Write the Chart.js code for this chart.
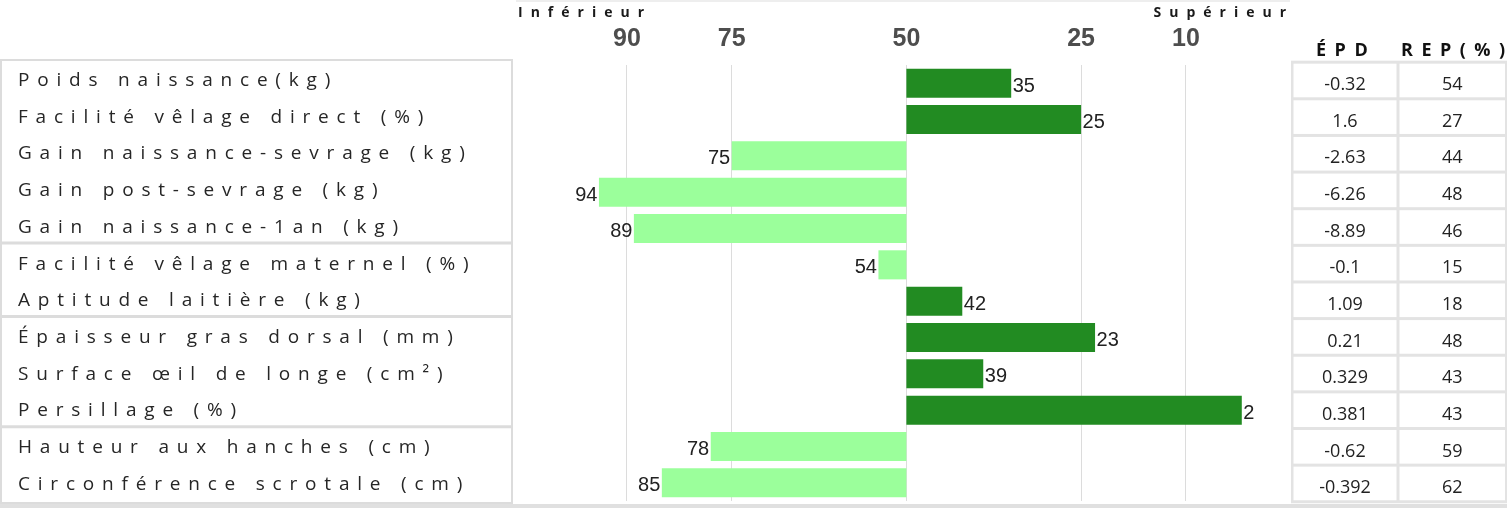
<!DOCTYPE html>
<html><head><meta charset="utf-8">
<script src="https://cdn.jsdelivr.net/npm/chart.js@4"></script>
<style>html,body{margin:0;padding:0;background:#fff;overflow:hidden}canvas{display:block}</style>
</head><body>
<canvas id="c" width="1507" height="508"></canvas>
<script>
// ---- data ----
const categories = ["Poids naissance(kg)", "Facilité vêlage direct (%)", "Gain naissance-sevrage (kg)", "Gain post-sevrage (kg)", "Gain naissance-1an (kg)", "Facilité vêlage maternel (%)", "Aptitude laitière (kg)", "Épaisseur gras dorsal (mm)", "Surface œil de longe (cm²)", "Persillage (%)", "Hauteur aux hanches (cm)", "Circonférence scrotale (cm)"];
const percentiles = [35, 25, 75, 94, 89, 54, 42, 23, 39, 2, 78, 85];
const epdValues = ["-0.32", "1.6", "-2.63", "-6.26", "-8.89", "-0.1", "1.09", "0.21", "0.329", "0.381", "-0.62", "-0.392"];
const repValues = [54, 27, 44, 48, 46, 15, 18, 48, 43, 43, 59, 62];
const tickValues = [90, 75, 50, 25, 10];
const groupBreaks = [5, 7, 10];
const centerValue = 50;
const headerLeft = "Inférieur", headerRight = "Supérieur";
const tableHeaders = ["ÉPD", "REP(%)"];

// ---- styles ----
const DARK = '#228B22', LIGHT = '#9BFF9B';
const LABEL_FONT = '"Open Sans", "DejaVu Sans", sans-serif';

const panels = {
  id: 'panels',
  beforeDraw(chart) {
    const ctx = chart.ctx;
    ctx.save();
    ctx.fillStyle = '#fff';
    ctx.fillRect(0, 0, chart.width, chart.height);
    ctx.restore();
  },
  afterDatasetsDraw(chart) {
    const ctx = chart.ctx;
    const xs = chart.scales.x;
    const meta = chart.getDatasetMeta(0);
    ctx.save();
    ctx.font = '20px "Liberation Sans", Arial, sans-serif';
    ctx.fillStyle = '#222';
    ctx.textBaseline = 'alphabetic';
    meta.data.forEach((bar, i) => {
      const v = percentiles[i];
      const end = xs.getPixelForValue(v);
      if (v < centerValue) { ctx.textAlign = 'left'; ctx.fillText(String(v), end + 1.5, bar.y + 8.5); }
      else { ctx.textAlign = 'right'; ctx.fillText(String(v), end - 1.5, bar.y + 8.5); }
    });
    ctx.restore();
  },
  afterDraw(chart) {
    const ctx = chart.ctx;
    const ys = chart.scales.y;
    const ca = chart.chartArea;
    const yPix = i => ys.getPixelForValue(i);
    ctx.save();

    // top / bottom thin rules
    ctx.fillStyle = '#eeeeee';
    ctx.fillRect(ca.left + 3, 0, ca.right - ca.left - 3, 2);
    ctx.fillStyle = '#e0e0e0';
    ctx.fillRect(0, 504, chart.width, 4);

    // ---- left label panel ----
    const labelBase = i => yPix(i) + 2.7 + i * 0.4;
    ctx.strokeStyle = '#dcdcdc';
    ctx.lineWidth = 2;
    ctx.strokeRect(1, 60, ca.left - 2, 443);
    ctx.lineWidth = 3;
    groupBreaks.forEach(k => {
      const yy = labelBase(k) - 26.5;
      ctx.beginPath(); ctx.moveTo(0, yy); ctx.lineTo(ca.left - 1, yy); ctx.stroke();
    });
    ctx.fillStyle = '#262626';
    ctx.font = '19px ' + LABEL_FONT;
    ctx.letterSpacing = '7.8px';
    ctx.textAlign = 'left';
    ctx.textBaseline = 'alphabetic';
    categories.forEach((c, i) => ctx.fillText(c, 18, labelBase(i)));

    // ---- header words above axis ----
    ctx.font = 'bold 14px ' + LABEL_FONT;
    ctx.letterSpacing = '8px';
    ctx.fillStyle = '#1a1a1a';
    ctx.fillText(headerLeft, ca.left + 5, 17);
    const wR = ctx.measureText(headerRight).width - 8;
    ctx.fillText(headerRight, ca.right - 4 - wR, 17);

    // ---- right table ----
    const rowTop = i => yPix(i) - 21 + i * 0.3;
    const rowH = (yPix(1) - yPix(0)) + 0.3;
    const c1 = [ca.right + 3.5, 1396.5], c2 = [1399.5, chart.width - 2];
    ctx.fillStyle = '#e3e3e3';
    ctx.fillRect(ca.right + 1, rowTop(0) - 1.5, chart.width - ca.right - 1, rowTop(11) + rowH - rowTop(0) + 3);
    ctx.fillStyle = '#fff';
    for (let i = 0; i < categories.length; i++) {
      const t = rowTop(i) + 1.5, h = rowH - 3;
      ctx.fillRect(c1[0], t, c1[1] - c1[0], h);
      ctx.fillRect(c2[0], t, c2[1] - c2[0], h);
    }
    ctx.letterSpacing = '0px';
    ctx.font = '18px ' + LABEL_FONT;
    ctx.fillStyle = '#222';
    ctx.textAlign = 'center';
    for (let i = 0; i < categories.length; i++) {
      const b = rowTop(i) + 28;
      ctx.fillText(epdValues[i], (c1[0] + c1[1]) / 2, b);
      ctx.fillText(String(repValues[i]), (c2[0] + c2[1]) / 2, b);
    }
    // table headers
    ctx.font = 'bold 18px ' + LABEL_FONT;
    ctx.letterSpacing = '8.5px';
    ctx.textAlign = 'left';
    ctx.fillStyle = '#111';
    ctx.fillText(tableHeaders[0], 1316, 56);
    ctx.fillText(tableHeaders[1], 1401, 56);
    ctx.restore();
  }
};

new Chart(document.getElementById('c'), {
  type: 'bar',
  data: {
    labels: categories,
    datasets: [{
      data: percentiles.map(v => [centerValue, v]),
      backgroundColor: ctx => (percentiles[ctx.dataIndex] < centerValue ? DARK : LIGHT),
      borderWidth: 0,
      barPercentage: 0.8,
      categoryPercentage: 1.0
    }]
  },
  options: {
    indexAxis: 'y',
    responsive: false,
    animation: false,
    layout: { padding: { left: 513, right: 217, top: 13, bottom: 7 } },
    plugins: { legend: { display: false }, tooltip: { enabled: false } },
    scales: {
      x: {
        type: 'linear', position: 'top', reverse: true, min: -4.9, max: 106.3,
        afterBuildTicks: s => { s.ticks = tickValues.map(v => ({ value: v })); },
        ticks: { font: { family: '"Liberation Sans", Arial, sans-serif', size: 25, weight: 'bold' }, color: '#4d4d4d', padding: 11, autoSkip: false, maxRotation: 0 },
        grid: { color: '#dcdcdc', drawTicks: false, lineWidth: 1 },
        border: { display: false }
      },
      y: { type: 'category', display: false, offset: true, grid: { display: false } }
    }
  },
  plugins: [panels]
});
</script>
</body></html>
